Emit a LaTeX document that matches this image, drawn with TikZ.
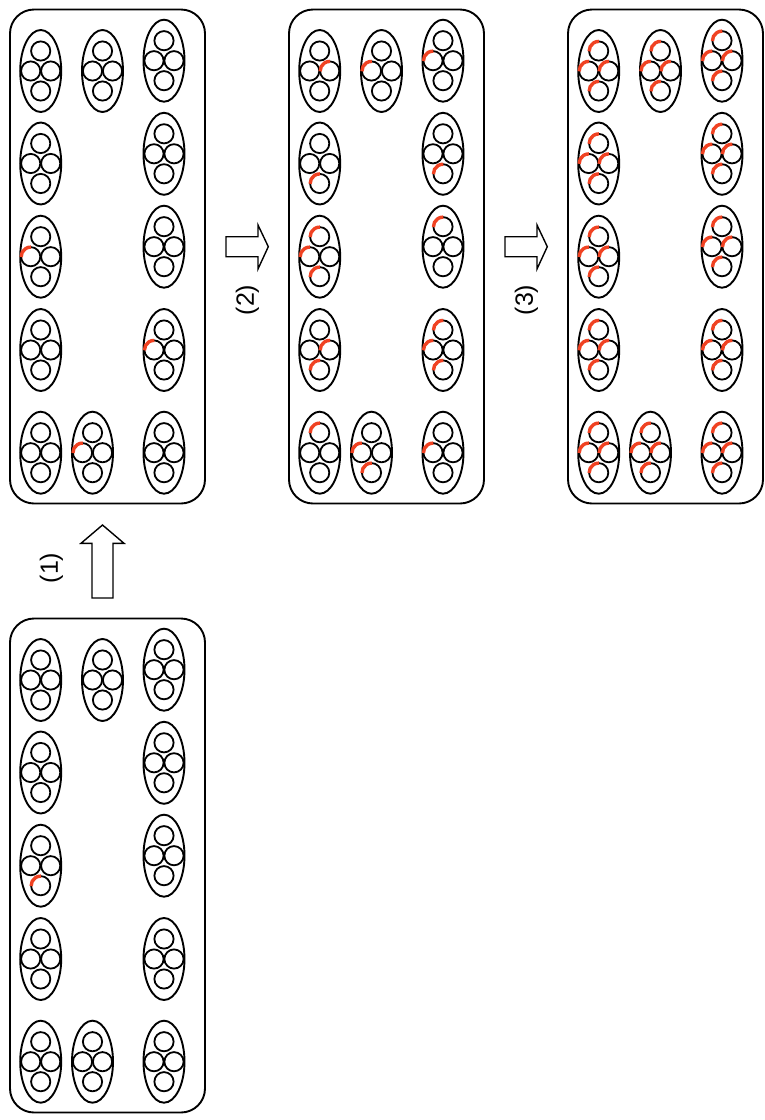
\documentclass[tikz,border=0pt]{standalone}
\usepackage{fontspec}
\setmainfont{Liberation Sans}
\definecolor{infred}{RGB}{240,66,34}
\newcommand\cellbody[2]{%
  \draw[cellwall] (#1,#2) ellipse[x radius=20.5, y radius=41];
  \foreach \dx/\dy in {0/-20,-10/0,10/0,0/20}
    \draw[organelle] ({#1+\dx},{#2+\dy}) circle[radius=9.6];
}
\newcommand\panelcells{%
  \draw[panelframe] (10,9.5) rectangle (205,503.5);
  \foreach \cx/\cy in {40.7/71,102.5/71,164/60.7,40.7/163.5,164/153.8,40.7/256.7,164/246.7,40.7/350,164/350,40.7/452.7,92.5/452.7,164/452.7}
    \cellbody{\cx}{\cy};
}
\newcommand\infarc[2]{\draw[infected] ({#1},{#2}) ++(178:9.6) arc[start angle=178,end angle=272,radius=9.6];}
\begin{document}
\begin{tikzpicture}[x=1pt,y=-1pt,
  panelframe/.style={draw, line width=1.9pt, rounded corners=24pt},
  cellwall/.style={draw, line width=1.9pt},
  organelle/.style={draw, line width=1.8pt},
  infected/.style={draw=infred, line width=3.4pt},
  blockarrow/.style={draw, line width=1.4pt, fill=white, line join=miter},
  steplabel/.style={font=\fontsize{25}{30}\selectfont, rotate=90, inner sep=0pt}]
\useasboundingbox (0,0) rectangle (764,1120);

% initial state (bottom)
\begin{scope}[shift={(0,609)}]
  \panelcells
  \infarc{40.7}{276.7}
\end{scope}

% after step (1)
\begin{scope}
  \panelcells
  \foreach \x/\y in {30.7/256.7,154/350,82.5/452.7}
    \infarc{\x}{\y};
\end{scope}

% after step (2)
\begin{scope}[shift={(279,0)}]
  \panelcells
  \foreach \x/\y in {50.7/71,92.5/71,154/60.7,40.7/183.5,164/173.8,
                     40.7/236.7,30.7/256.7,40.7/276.7,164/226.7,
                     50.7/350,40.7/370,164/330,154/350,164/370,
                     40.7/432.7,82.5/452.7,92.5/472.7,154/452.7}
    \infarc{\x}{\y};
\end{scope}

% after step (3)
\begin{scope}[shift={(558,0)}]
  \panelcells
  \foreach \cx/\cy in {40.7/71,102.5/71,164/60.7,40.7/163.5,164/153.8,40.7/256.7,164/246.7,40.7/350,164/350,40.7/452.7,92.5/452.7,164/452.7}
    \foreach \dx/\dy in {0/-20,-10/0,10/0,0/20}
      \infarc{\cx+\dx}{\cy+\dy};
\end{scope}

% block arrows
\draw[blockarrow] (92,598) -- (92,543.3) -- (81,543.3) -- (102.5,525) -- (124,543.3) -- (113,543.3) -- (113,598) -- cycle;
\draw[blockarrow] (226,236.7) -- (258,236.7) -- (258,225) -- (268.3,246.7) -- (258,269) -- (258,256.7) -- (226,256.7) -- cycle;
\draw[blockarrow] (505,236.7) -- (537,236.7) -- (537,225) -- (547.3,246.7) -- (537,269) -- (537,256.7) -- (505,256.7) -- cycle;

% labels
\node[steplabel] (lab1) at (51.5,568) {(1)};
\node[steplabel] (lab2) at (247.5,300) {(2)};
\node[steplabel] (lab3) at (526.5,300) {(3)};
\end{tikzpicture}
\end{document}
